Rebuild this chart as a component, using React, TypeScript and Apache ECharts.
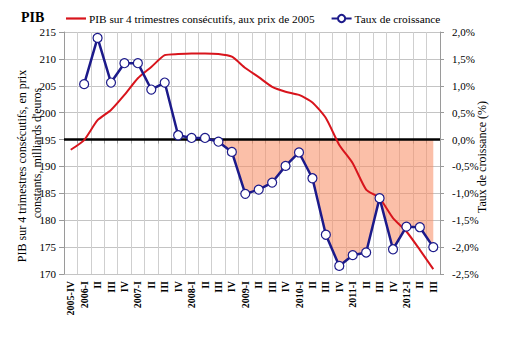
import React, { useEffect, useRef } from "react";
import * as echarts from "echarts";

const categories = [
  "2005-IV", "2006-I", "2006-II", "2006-III", "2006-IV",
  "2007-I", "2007-II", "2007-III", "2007-IV",
  "2008-I", "2008-II", "2008-III", "2008-IV",
  "2009-I", "2009-II", "2009-III", "2009-IV",
  "2010-I", "2010-II", "2010-III", "2010-IV",
  "2011-I", "2011-II", "2011-III", "2011-IV",
  "2012-I", "2012-II", "2012-III",
];

// PIB over 4 consecutive quarters, billions of euros (2005 prices)
const pibValues = [
  193.1, 194.9, 198.6, 200.5, 203.3,
  206.4, 208.5, 210.7, 210.9,
  211.0, 211.0, 210.9, 210.4,
  208.3, 206.6, 204.8, 203.9,
  203.3, 201.9, 199.0, 194.0,
  190.6, 185.7, 184.1, 180.4,
  177.9, 174.5, 170.9,
];

// Growth rate (%)
const growthValues: (number | null)[] = [
  null, 1.03, 1.89, 1.06, 1.42,
  1.42, 0.93, 1.06, 0.08,
  0.03, 0.03, -0.04, -0.23,
  -1.01, -0.93, -0.8, -0.49,
  -0.24, -0.72, -1.77, -2.35,
  -2.15, -2.1, -1.09, -2.04,
  -1.62, -1.63, -2.0,
];

const leftTicks = { min: 170, max: 215, interval: 5 };
const rightTicks = { min: -2.5, max: 2.0, interval: 0.5 };

const FONT = "Liberation Serif";
const PIB_NAME = "PIB sur 4 trimestres consécutifs, aux prix de 2005";
const GROWTH_NAME = "Taux de croissance";

export default function App() {
  const ref = useRef<HTMLDivElement>(null);
  useEffect(() => {
    document.body.style.margin = "0";
    if (!ref.current) return;
    const chart = echarts.init(ref.current, null, { renderer: "svg" });
    const negativeArea = growthValues.map((v) => (v == null ? null : Math.min(0, v)));
    chart.setOption({
      animation: false,
      backgroundColor: "#ffffff",
      textStyle: { fontFamily: FONT, color: "#000" },
      title: {
        text: "PIB",
        left: 16,
        top: 5,
        textStyle: { fontFamily: FONT, fontSize: 14, fontWeight: "bold", color: "#000" },
      },
      legend: {
        left: 61,
        top: 8,
        itemWidth: 20,
        itemHeight: 9,
        itemGap: 16,
        data: [
          { name: PIB_NAME, icon: "path://M0,0 L20,0 L20,2.2 L0,2.2 Z" },
          { name: GROWTH_NAME },
        ],
        textStyle: { fontFamily: FONT, fontSize: 11.3, color: "#000", padding: [0, 0, 0, -2] },
      },
      grid: { left: 64, right: 69, top: 32, bottom: 81, containLabel: false },
      xAxis: {
        type: "category",
        data: categories,
        boundaryGap: true,
        axisLine: { show: true, lineStyle: { color: "#9a9a9a", width: 1 } },
        axisTick: { show: true, interval: 0, length: 4, lineStyle: { color: "#9a9a9a" } },
        splitLine: { show: true, interval: 0, lineStyle: { color: "#cfcfcf", width: 1 } },
        axisLabel: {
          interval: 0,
          rotate: 90,
          fontFamily: FONT,
          fontSize: 10,
          fontWeight: "bold",
          color: "#000",
          margin: 7,
          formatter: (v: string, i: number) => {
            const [y, q] = v.split("-");
            return i === 0 || q === "I" ? `${y}-${q}` : q;
          },
        },
      },
      yAxis: [
        {
          type: "value",
          min: leftTicks.min,
          max: leftTicks.max,
          interval: leftTicks.interval,
          axisLine: { show: true, lineStyle: { color: "#9a9a9a" } },
          axisTick: { show: true, length: 5, lineStyle: { color: "#9a9a9a" } },
          splitLine: { show: true, lineStyle: { color: "#c4c4c4", width: 1 } },
          axisLabel: { fontFamily: FONT, fontSize: 11, color: "#000", margin: 8 },
        },
        {
          type: "value",
          min: rightTicks.min,
          max: rightTicks.max,
          interval: rightTicks.interval,
          position: "right",
          axisLine: { show: true, lineStyle: { color: "#9a9a9a" } },
          axisTick: { show: true, length: 4, lineStyle: { color: "#9a9a9a" } },
          splitLine: { show: false },
          axisLabel: {
            fontFamily: FONT,
            fontSize: 11,
            color: "#000",
            margin: 12,
            formatter: (v: number) => v.toFixed(1).replace(".", ",") + "%",
          },
        },
      ],
      graphic: [
        {
          type: "text",
          x: 22,
          y: 166,
          rotation: Math.PI / 2,
          style: {
            text: "PIB sur 4 trimestres consécutifs, en prix",
            font: `12px "${FONT}"`,
            fill: "#000",
            textAlign: "center",
            textVerticalAlign: "middle",
          },
        },
        {
          type: "text",
          x: 37,
          y: 153,
          rotation: Math.PI / 2,
          style: {
            text: "constants, milliards d'euros",
            font: `12px "${FONT}"`,
            fill: "#000",
            textAlign: "center",
            textVerticalAlign: "middle",
          },
        },
        {
          type: "text",
          x: 482,
          y: 157,
          rotation: Math.PI / 2,
          style: {
            text: "Taux de croissance (%)",
            font: `12px "${FONT}"`,
            fill: "#000",
            textAlign: "center",
            textVerticalAlign: "middle",
          },
        },
      ],
      series: [
        {
          name: "area",
          type: "line",
          yAxisIndex: 1,
          data: negativeArea,
          symbol: "none",
          lineStyle: { width: 0 },
          areaStyle: { color: "rgba(247,140,100,0.8)", origin: 0 },
          silent: true,
          z: 1,
        },
        {
          name: PIB_NAME,
          type: "line",
          yAxisIndex: 0,
          data: pibValues,
          symbol: "none",
          smooth: 0.2,
          lineStyle: { color: "#d8141c", width: 2 },
          itemStyle: { color: "#d8141c" },
          z: 3,
        },
        {
          name: GROWTH_NAME,
          type: "line",
          yAxisIndex: 1,
          data: growthValues,
          symbol: "circle",
          symbolSize: 9,
          lineStyle: { color: "#1c1a8a", width: 2.5 },
          itemStyle: { color: "#ffffff", borderColor: "#1c1a8a", borderWidth: 1.2 },
          z: 4,
          markLine: {
            silent: true,
            symbol: "none",
            label: { show: false },
            lineStyle: { color: "#000", width: 2.5, type: "solid" },
            data: [{ yAxis: 0 }],
            z: 2,
          },
        },
      ],
    });
    return () => chart.dispose();
  }, []);
  return <div ref={ref} style={{ width: 509, height: 355 }} />;
}
